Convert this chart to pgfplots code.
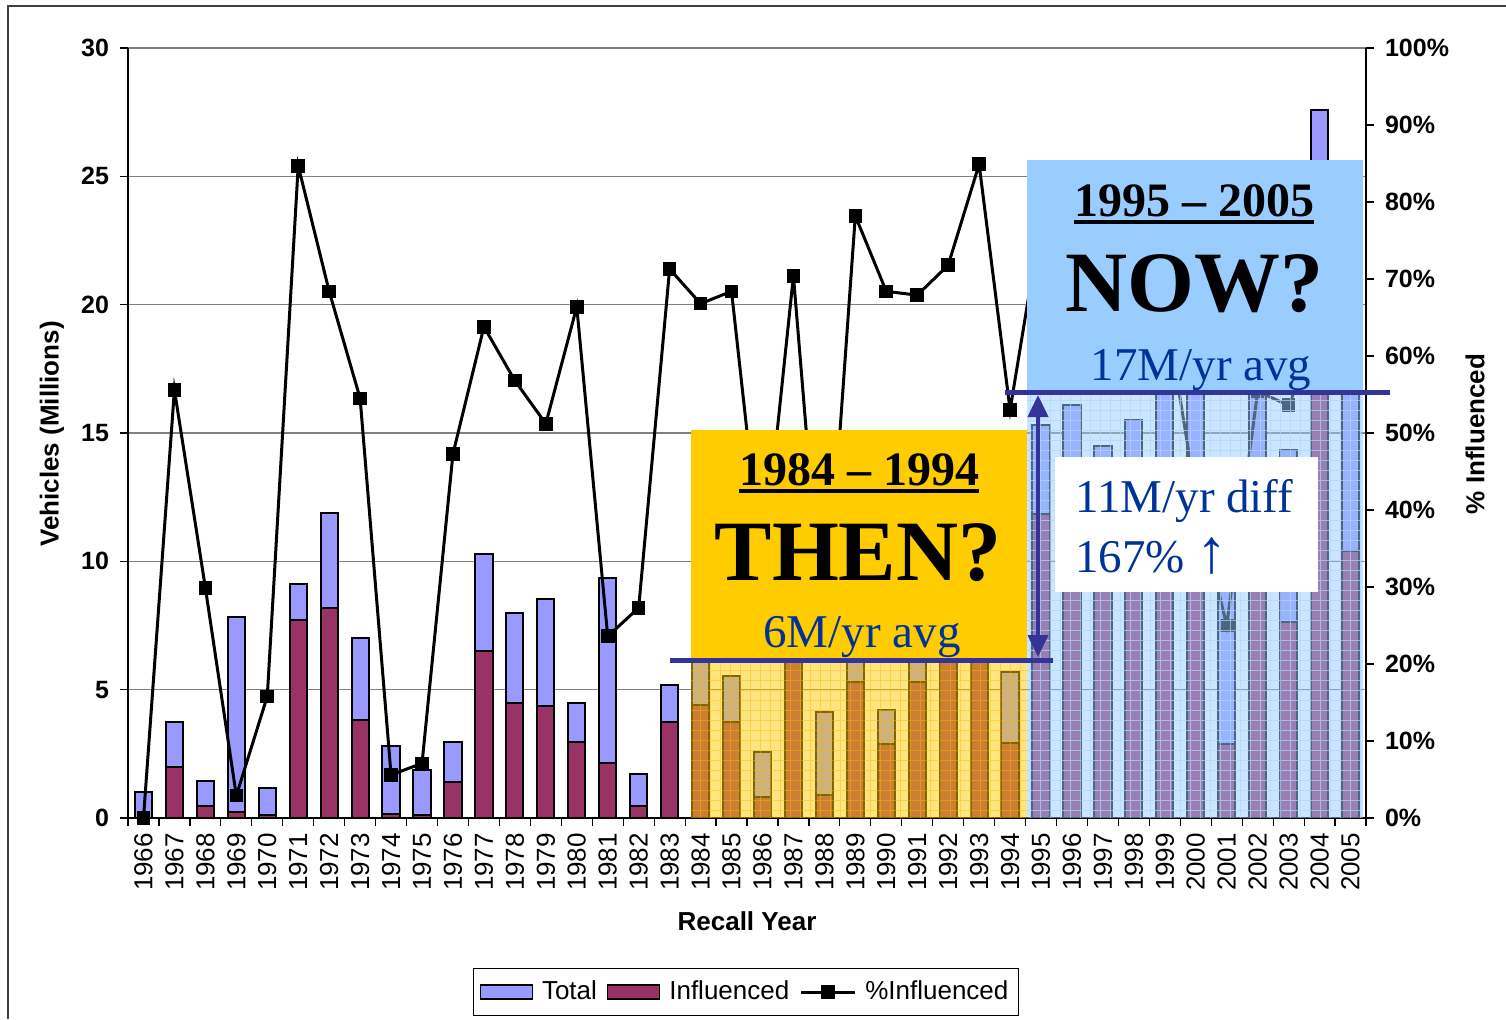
\documentclass[border=0pt]{standalone}
\usepackage{fontspec}
\setmainfont{Liberation Serif}
\setsansfont{Liberation Sans}
\usepackage{pgfplots}
\pgfplotsset{compat=1.18}
\usepackage{pgfplotstable}
\usetikzlibrary{arrows.meta}

\definecolor{barblue}{HTML}{9999FF}
\definecolor{barred}{HTML}{993366}
\definecolor{ygold}{HTML}{FFCC00}
\definecolor{lblue}{HTML}{99CCFF}
\definecolor{dblue}{HTML}{333399}
\definecolor{tblue}{HTML}{003399}
\definecolor{gridgray}{HTML}{808080}

\pgfplotsset{
  linelegend/.style={legend image code/.code={\draw[mark repeat=2,mark phase=2,##1] plot coordinates {(0pt,0pt) (13.5pt,0pt) (27pt,0pt)};}},
  bluelegend/.style={legend image code/.code={\draw[fill=barblue,draw=black,line width=0.7pt] (0pt,-3.5pt) rectangle (26pt,3.5pt);}},
  redlegend/.style={legend image code/.code={\draw[fill=barred,draw=black,line width=0.7pt] (0pt,-3.5pt) rectangle (26pt,3.5pt);}},
}

\newcommand\thickul[1]{\setbox0\hbox{#1}\rlap{\raisebox{-4.2pt}{\rule{\wd0}{2.2pt}}}\box0}

\pgfplotstableread{
x year total infl pct
0 1966 1.0 0 0
1 1967 3.75 2.0 55.6
2 1968 1.45 0.45 29.9
3 1969 7.85 0.22 2.9
4 1970 1.15 0.13 15.8
5 1971 9.1 7.7 84.7
6 1972 11.9 8.2 68.4
7 1973 7.0 3.8 54.5
8 1974 2.8 0.15 5.6
9 1975 1.87 0.13 7.1
10 1976 2.95 1.4 47.3
11 1977 10.3 6.5 63.8
12 1978 8.0 4.5 56.8
13 1979 8.55 4.35 51.2
14 1980 4.5 2.95 66.4
15 1981 9.35 2.15 23.6
16 1982 1.7 0.45 27.3
17 1983 5.2 3.75 71.3
18 1984 6.6 4.4 66.8
19 1985 5.53 3.74 68.4
20 1986 2.57 0.82 32.0
21 1987 9.2 6.5 70.4
22 1988 4.13 0.9 21.8
23 1989 6.8 5.3 78.2
24 1990 4.2 2.88 68.4
25 1991 7.8 5.3 67.9
26 1992 8.9 6.4 71.8
27 1993 7.8 6.6 84.9
28 1994 5.68 2.92 53.0
29 1995 15.3 11.85 77.5
30 1996 16.1 11.0 68.3
31 1997 14.5 10.0 69.0
32 1998 15.5 11.3 72.9
33 1999 17.2 11.5 66.9
34 2000 22.0 9.2 41.8
35 2001 11.6 2.9 25.0
36 2002 18.6 10.3 55.4
37 2003 14.33 7.65 53.6
38 2004 27.6 17.5 63.4
39 2005 17.5 10.4 59.4
}\datatable

\begin{document}
\begin{tikzpicture}[x=0.5pt,y=-0.5pt]
\useasboundingbox (0,0) rectangle (1506,1019);
\coordinate (SW) at (128,818);
\begin{axis}[at={(SW)}, anchor=south west, scale only axis,
  width=619pt, height=385pt,
  xmin=-0.5, xmax=39.5, ymin=0, ymax=30,
  axis x line*=bottom, axis y line*=left,
  axis line style={line width=0.8pt, black},
  ytick={0,5,...,30}, ymajorgrids,
  grid style={gridgray, line width=0.75pt},
  xtick={0,...,39}, xticklabels from table={\datatable}{year},
  major x tick style={draw=none},
  minor xtick={-0.5,0.5,...,39.5},
  tick align=outside, major tick length=4pt, minor tick length=4pt,
  tick style={black, line width=0.6pt},
  x tick label style={rotate=90, anchor=east, font=\sffamily\fontsize{13}{15}\selectfont},
  y tick label style={xshift=-2pt, font=\sffamily\bfseries\fontsize{12.5}{15}\selectfont},
  /pgf/number format/assume math mode=true,
]
\addplot[ybar, bar width=8.6pt, bar shift=0pt, fill=barblue, draw=black, line width=1pt] table[x=x,y=total]{\datatable};
\addplot[ybar, bar width=8.6pt, bar shift=0pt, fill=barred, draw=black, line width=1pt] table[x=x,y=infl]{\datatable};
\end{axis}
\begin{axis}[at={(SW)}, anchor=south west, scale only axis,
  width=619pt, height=385pt,
  xmin=-0.5, xmax=39.5, ymin=0, ymax=100,
  axis x line=none, axis y line*=right,
  axis line style={line width=0.8pt, black},
  ytick={0,10,...,100},
  yticklabels={0\%,10\%,20\%,30\%,40\%,50\%,60\%,70\%,80\%,90\%,100\%},
  tick align=outside, major tick length=4pt,
  tick style={black, line width=0.6pt},
  y tick label style={xshift=2pt, font=\sffamily\bfseries\fontsize{12.5}{15}\selectfont},
  legend columns=3,
  legend style={at={(0.4992,-0.226)}, anchor=center, draw=black, line width=0.5pt,
    font=\sffamily\fontsize{13}{15}\selectfont, inner xsep=3pt, inner ysep=4.5pt,
    /tikz/every odd column/.append style={column sep=2.5pt},
    /tikz/every even column/.append style={column sep=3pt}},
]
\addlegendimage{bluelegend}
\addlegendentry{Total}
\addlegendimage{redlegend}
\addlegendentry{Influenced}
\addplot[black, line width=1.5pt, mark=square*, mark size=2.65pt, linelegend]
  table[x=x,y=pct]{\datatable};
\addlegendentry{\%Influenced}
\end{axis}

% axis titles
\node[rotate=90, font=\sffamily\bfseries\fontsize{13}{15}\selectfont] at (52,434) {Vehicles (Millions)};
\node[rotate=90, font=\sffamily\bfseries\fontsize{13}{15}\selectfont] at (1475,434) {\% Influenced};
\node[font=\sffamily\bfseries\fontsize{13}{15}\selectfont] at (747,921) {Recall Year};

% frame
\draw[black!75, line width=1pt] (8,1019) -- (8,6) -- (1506,6);

% yellow overlay
\fill[ygold, opacity=0.5] (691,660) rectangle (1027,818);
\begin{scope}
\clip (691,660) rectangle (1027,818);
\draw[ygold!70!orange, opacity=0.45, line width=0.4pt, step=5pt] (691,660) grid (1027,818);
\end{scope}
\fill[ygold] (691,430) rectangle (1027,660);

% blue overlay
\fill[lblue, opacity=0.5] (1027,392) rectangle (1363,818);
\begin{scope}
\clip (1027,392) rectangle (1363,818);
\draw[lblue!80!white, opacity=0.7, line width=0.4pt, step=5pt] (1027,392) grid (1363,818);
\end{scope}
\fill[lblue] (1027,160) rectangle (1363,392);
\fill[white] (1055,457) rectangle (1318,592);

% lines and arrow
\draw[dblue, line width=2.5pt] (670,660) -- (1053,660);
\draw[dblue, line width=2.5pt] (1005,392) -- (1390,392);
\draw[dblue, line width=2pt, {Triangle[width=10pt,length=11pt]}-{Triangle[width=10pt,length=11pt]}] (1038,395) -- (1038,657);

% texts
\node[anchor=base, inner sep=0pt, font=\bfseries\fontsize{24}{28}\selectfont] at (859,485) {\thickul{1984 – 1994}};
\node[anchor=base, inner sep=0pt, font=\bfseries\fontsize{43}{48}\selectfont] at (858,580) {THEN?};
\node[anchor=base, inner sep=0pt, text=tblue, font=\fontsize{23.5}{28}\selectfont] at (862,647) {6M/yr avg};

\node[anchor=base, inner sep=0pt, font=\bfseries\fontsize{24}{28}\selectfont] at (1194,216) {\thickul{1995 – 2005}};
\node[anchor=base, inner sep=0pt, font=\bfseries\fontsize{43}{48}\selectfont] at (1194,311) {NOW?};
\node[anchor=base, inner sep=0pt, text=tblue, font=\fontsize{23.5}{28}\selectfont] at (1201,380) {17M/yr avg};

\node[anchor=base west, inner sep=0pt, text=tblue, font=\fontsize{23.5}{28}\selectfont] at (1075,512) {11M/yr diff};
\node[anchor=base west, inner sep=0pt, text=tblue, font=\fontsize{23.5}{28}\selectfont] at (1075,572) {167\% {\fontsize{31}{34}\selectfont ↑}};
\end{tikzpicture}
\end{document}
